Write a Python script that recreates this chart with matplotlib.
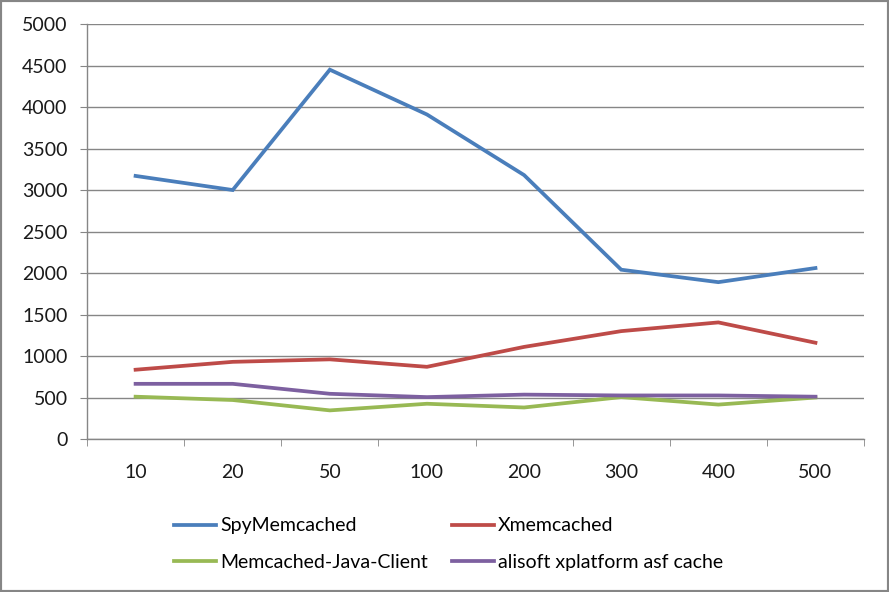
import matplotlib
matplotlib.use("Agg")
import matplotlib.pyplot as plt
from matplotlib.patches import Rectangle

# Dados
categorias = ["10", "20", "50", "100", "200", "300", "400", "500"]

spy = [3170, 3000, 4450, 3910, 3180, 2040, 1890, 2060]
xmem = [835, 930, 960, 870, 1110, 1300, 1405, 1160]
java_client = [510, 470, 345, 425, 380, 505, 415, 500]
alisoft = [665, 665, 545, 505, 535, 525, 525, 510]

nomes = [
    "SpyMemcached",
    "Xmemcached",
    "Memcached-Java-Client",
    "alisoft xplatform asf cache",
]
cores = ["#4A7EBB", "#BE4B48", "#98B954", "#7D60A0"]

plt.rcParams["font.family"] = ["Lato", "DejaVu Sans"]

fig = plt.figure(figsize=(8.89, 5.92), dpi=100)
ax = fig.add_axes([0.0979, 0.2584, 0.874, 0.701])

x = list(range(len(categorias)))
linhas = []
for serie, nome, cor in zip([spy, xmem, java_client, alisoft], nomes, cores):
    (l,) = ax.plot(x, serie, color=cor, linewidth=2.7, label=nome,
                   solid_joinstyle="miter")
    linhas.append(l)

ax.set_xlim(-0.5, len(categorias) - 0.5)
ax.set_ylim(0, 5000)
ax.set_yticks(range(0, 5001, 500))
ax.set_xticks(x)
ax.set_xticklabels(categorias)
# marcas entre categorias (estilo Excel)
ax.set_xticks([i - 0.5 for i in range(len(categorias) + 1)], minor=True)

ax.grid(axis="y", color="#868686", linewidth=1.0)
ax.set_axisbelow(True)

for lado in ["top", "right"]:
    ax.spines[lado].set_visible(False)
for lado in ["left", "bottom"]:
    ax.spines[lado].set_color("#868686")
    ax.spines[lado].set_linewidth(1.0)

ax.tick_params(axis="y", length=5, color="#868686", pad=9,
               labelsize=14, labelcolor="#1a1a1a")
ax.tick_params(axis="x", which="major", length=0, pad=18,
               labelsize=14, labelcolor="#1a1a1a")
ax.tick_params(axis="x", which="minor", length=5, color="#868686")

# legenda em linhas: ordem das colunas ajustada
ordem = [0, 2, 1, 3]
fig.legend(
    [linhas[i] for i in ordem],
    [nomes[i] for i in ordem],
    loc="center",
    bbox_to_anchor=(0.5045, 0.081),
    ncol=2,
    frameon=False,
    fontsize=14,
    handlelength=2.15,
    handletextpad=0.2,
    columnspacing=1.25,
    labelspacing=1.0,
)

# borda do gráfico
fig.patches.append(Rectangle((0, 0), 1, 1, transform=fig.transFigure,
                             fill=False, edgecolor="#868686", linewidth=3))

fig.savefig("out.png", dpi=100)
